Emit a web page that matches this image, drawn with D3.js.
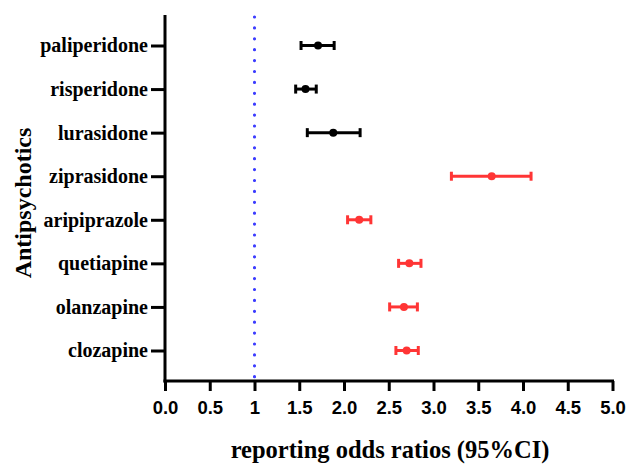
<!DOCTYPE html>
<html>
<head>
<meta charset="utf-8">
<script src="https://cdn.jsdelivr.net/npm/d3@7"></script>
<style>
    body { margin: 0; background: #fff; }
    svg { display: block; }
</style>
</head>
<body>
<div id="chart"></div>
<script>
var drugs = ["paliperidone", "risperidone", "lurasidone", "ziprasidone",
             "aripiprazole", "quetiapine", "olanzapine", "clozapine"];
var ror = [1.71, 1.57, 1.88, 3.65, 2.17, 2.73, 2.67, 2.70];
var lower = [1.52, 1.46, 1.59, 3.20, 2.04, 2.61, 2.51, 2.58];
var upper = [1.89, 1.69, 2.18, 4.09, 2.30, 2.86, 2.82, 2.83];
var highlighted = [false, false, false, true, true, true, true, true];
var xTicks = [0, 0.5, 1, 1.5, 2, 2.5, 3, 3.5, 4, 4.5, 5];
var refValue = 1;

var W = 628, H = 464;
var RED = "#ff3535", BLACK = "#000";
var SERIF = "'Liberation Serif', 'Times New Roman', serif";
var SANS = "'Liberation Sans', Arial, sans-serif";

var svg = d3.select("#chart").append("svg")
    .attr("width", W)
    .attr("height", H);

var x = d3.scaleLinear().domain([0, 5]).range([165, 612.5]);
var y = d3.scalePoint().domain(drugs).range([15, 381]).padding(0.7);

var rows = drugs.map(function(d, i) {
    return { name: d, est: ror[i], lo: lower[i], hi: upper[i], hot: highlighted[i] };
});

// reference line at OR = 1, drawn as round dots
svg.append("line")
    .attr("x1", x(refValue)).attr("x2", x(refValue))
    .attr("y1", 17).attr("y2", 381)
    .attr("stroke", "#3c3cff")
    .attr("stroke-width", 3.2)
    .attr("stroke-linecap", "round")
    .attr("stroke-dasharray", "0,10.9");

var xAxis = d3.axisBottom(x)
    .tickValues(xTicks)
    .tickSize(10)
    .tickSizeOuter(0)
    .tickPadding(10)
    .tickFormat(function(v) { return v === 1 ? "1" : d3.format(".1f")(v); });

var gx = svg.append("g")
    .attr("transform", "translate(0,381)")
    .call(xAxis);

var yAxis = d3.axisLeft(y)
    .tickSize(14)
    .tickSizeOuter(0)
    .tickPadding(3);

var gy = svg.append("g")
    .attr("transform", "translate(" + x(0) + ",0)")
    .call(yAxis);

gy.select(".domain").attr("d", "M0,15V382.5");
gx.select(".domain").attr("d", "M" + (x(0) - 1.5) + ",0H" + (x(5) + 1.5));

// thick black lines, like the prism export
[gx, gy].forEach(function(g) {
    g.selectAll("path, line")
        .attr("stroke", BLACK)
        .attr("stroke-width", 3);
});
gx.selectAll(".tick line").attr("y2", 10);

gx.selectAll("text")
    .attr("fill", BLACK)
    .style("font-family", SANS)
    .style("font-weight", "bold")
    .style("font-size", "18.5px");

gy.selectAll("text")
    .attr("fill", BLACK)
    .style("font-family", SERIF)
    .style("font-weight", "bold")
    .style("font-size", "20px");

// error bars
var bars = svg.append("g").selectAll("g")
    .data(rows)
  .enter().append("g")
    .attr("transform", function(d) { return "translate(0," + y(d.name) + ")"; })
    .attr("fill", function(d) { return d.hot ? RED : BLACK; })
    .attr("stroke", function(d) { return d.hot ? RED : BLACK; });

bars.append("line")
    .attr("x1", function(d) { return x(d.lo); })
    .attr("x2", function(d) { return x(d.hi); })
    .attr("stroke-width", 3);

bars.selectAll(".cap")
    .data(function(d) { return [d.lo, d.hi]; })
  .enter().append("line")
    .attr("class", "cap")
    .attr("x1", function(v) { return x(v); })
    .attr("x2", function(v) { return x(v); })
    .attr("y1", -4.5).attr("y2", 4.5)
    .attr("stroke-width", 3);

bars.append("circle")
    .attr("cx", function(d) { return x(d.est); })
    .attr("r", 4)
    .attr("stroke", "none");

// titles
svg.append("text")
    .attr("transform", "translate(31,203) rotate(-90)")
    .attr("text-anchor", "middle")
    .style("font-family", SERIF)
    .style("font-weight", "bold")
    .style("font-size", "24px")
    .text("Antipsychotics");

svg.append("text")
    .attr("x", 390)
    .attr("y", 458)
    .attr("text-anchor", "middle")
    .style("font-family", SERIF)
    .style("font-weight", "bold")
    .style("font-size", "24.5px")
    .text("reporting odds ratios (95%CI)");
</script>
</body>
</html>
